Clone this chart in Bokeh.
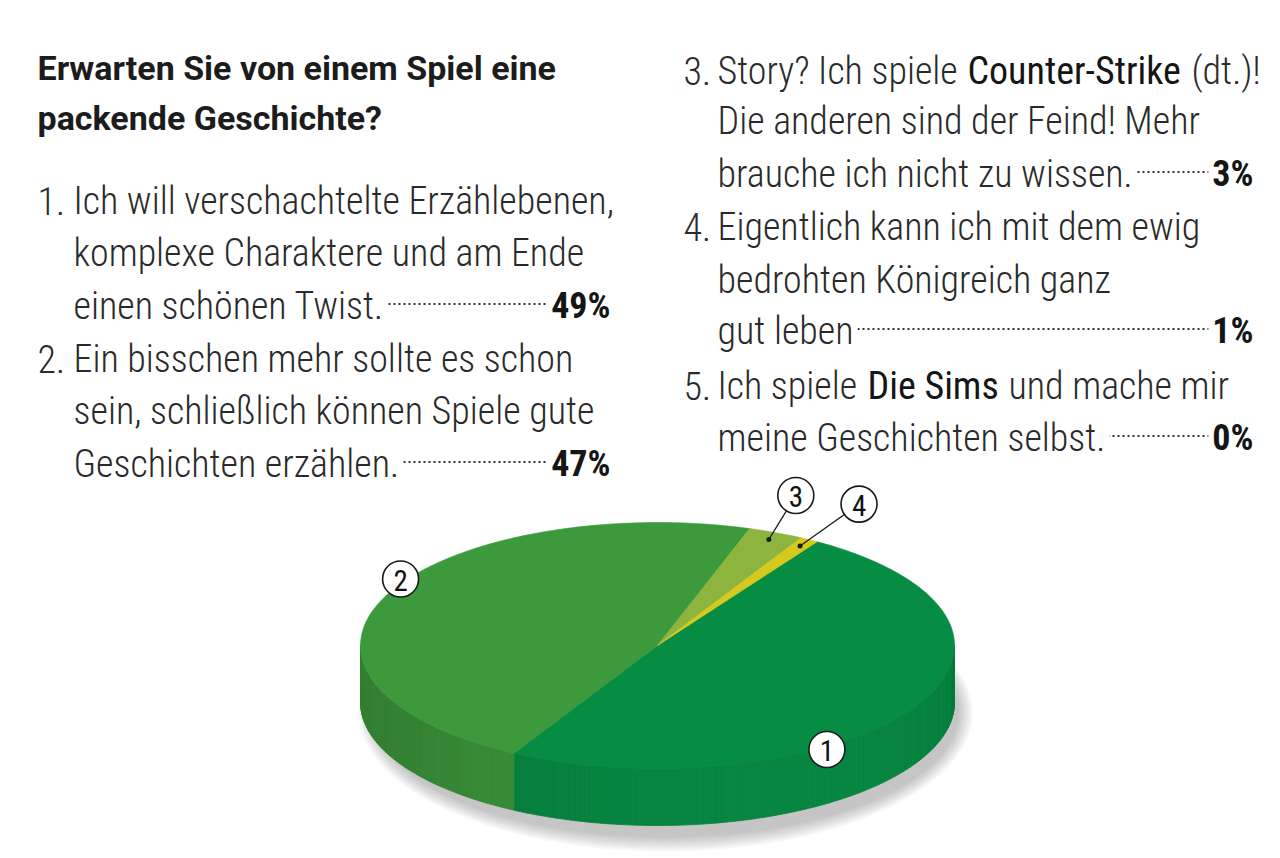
import numpy as np
from bokeh.plotting import figure
from bokeh.models import Range1d
from bokeh.core.properties import value
from bokeh.embed import file_html
from bokeh.resources import INLINE

# ---------------- data ----------------
question = ["Erwarten Sie von einem Spiel eine", "packende Geschichte?"]
item_numbers = ["1.", "2.", "3.", "4.", "5."]
# each line is a list of (text, emphasised) runs
item_lines = [
    [[("Ich will verschachtelte Erzählebenen,", False)],
     [("komplexe Charaktere und am Ende", False)],
     [("einen schönen Twist.", False)]],
    [[("Ein bisschen mehr sollte es schon", False)],
     [("sein, schließlich können Spiele gute", False)],
     [("Geschichten erzählen.", False)]],
    [[("Story? Ich spiele", False), ("Counter-Strike", True), ("(dt.)!", False)],
     [("Die anderen sind der Feind! Mehr", False)],
     [("brauche ich nicht zu wissen.", False)]],
    [[("Eigentlich kann ich mit dem ewig", False)],
     [("bedrohten Königreich ganz", False)],
     [("gut leben", False)]],
    [[("Ich spiele", False), ("Die Sims", True), ("und mache mir", False)],
     [("meine Geschichten selbst.", False)]],
]
percentages = [49, 47, 3, 1, 0]
slice_labels = ["1", "2", "3", "4", "5"]
top_colors = ["#078C44", "#3D9A3C", "#8DB43C", "#D4C91C", "#B0B0B0"]

# ---------------- layout / style ----------------
W, H = 1280, 858
BODY = "'Roboto Condensed Light', 'Roboto Condensed', sans-serif"
EMPH = "'Roboto Condensed', sans-serif"
TITLE = "Roboto, sans-serif"
TXT = "#2a2a2a"
BODY_SIZE = "38px"
PAD = 4
# per item: (x of number, x of text, baselines, x of runs on first line)
item_layout = [
    (37, 73, [200, 252, 305], None),
    (37, 73, [358, 410, 463], None),
    (683, 717, [70, 120, 173], [717, 967, 1191]),
    (683, 717, [226, 279, 330], None),
    (683, 717, [385, 437], [717, 867, 1008]),
]
pct_right = [610, 610, 1253, 1253, 1253]

CX, CY, RA, RB, DEPTH = 657, 645, 297, 123, 57
START = 57.5  # degrees, boundary between slice 4 and slice 1
label_polar = {0: (-56, 1.02), 1: (148, 1.02)}
leader_offsets = {2: (27, -44), 3: (59, -42)}
MARK_R = 18

p = figure(width=W, height=H, x_range=Range1d(0, W), y_range=Range1d(H, 0),
           output_backend="svg", toolbar_location=None, min_border=0)
p.axis.visible = False
p.grid.visible = False
p.outline_line_color = None
p.background_fill_color = "white"
p.border_fill_color = "white"


def ex(t):
    return CX + RA * np.cos(np.radians(t))


def ey(t):
    return CY - RB * np.sin(np.radians(t))


# ---------- shadow ----------
for k in range(8):
    p.ellipse(x=[CX + 8], y=[CY + DEPTH + 10], width=[2 * (RA + 10 - 2 * k)],
              height=[2 * (RB + 16 - 2 * k)], fill_color="#404050",
              fill_alpha=0.045, line_color=None)

# ---------- slice angles ----------
vals = np.array(percentages, dtype=float)
cum = np.concatenate([[0], np.cumsum(vals)])
a0 = START - 3.6 * cum[:-1]   # higher angle
a1 = START - 3.6 * cum[1:]    # lower angle


def shade(hexcol, f):
    h = hexcol.lstrip("#")
    r, g, b = (int(h[i:i + 2], 16) for i in (0, 2, 4))
    return "#%02x%02x%02x" % (int(min(255, r * f)), int(min(255, g * f)), int(min(255, b * f)))


# ---------- side ----------
sx, sy, sc = [], [], []
for i in range(len(vals)):
    if vals[i] <= 0:
        continue
    ts = np.arange(a1[i], a0[i], 1.0)
    ts = np.append(ts, a0[i])
    for j in range(len(ts) - 1):
        t0, t1 = ts[j], ts[j + 1]
        tm = 0.5 * (t0 + t1)
        if np.sin(np.radians(tm)) >= 0:
            continue
        f = 0.83 + 0.13 * max(0.0, np.cos(np.radians(tm - 295)))
        sx.append([ex(t0), ex(t1), ex(t1), ex(t0)])
        sy.append([ey(t0), ey(t1), ey(t1) + DEPTH, ey(t0) + DEPTH])
        sc.append(shade(top_colors[i], f))
p.patches(xs=sx, ys=sy, fill_color=sc, line_color=sc, line_width=0.8)

# ---------- top ----------
tx, ty, tc = [], [], []
for i in range(len(vals)):
    if vals[i] <= 0:
        continue
    ts = np.linspace(a1[i], a0[i], max(3, int(abs(a0[i] - a1[i])) + 2))
    tx.append([CX] + list(ex(ts)))
    ty.append([CY] + list(ey(ts)))
    tc.append(top_colors[i])
p.patches(xs=tx, ys=ty, fill_color=tc, line_color=tc, line_width=0.6)

# ---------- slice markers ----------
mx, my, mt = [], [], []
for i, (ang, r) in label_polar.items():
    mx.append(CX + r * RA * np.cos(np.radians(ang)))
    my.append(CY - r * RB * np.sin(np.radians(ang)))
    mt.append(slice_labels[i])
for i, (ox, oy) in leader_offsets.items():
    mid = 0.5 * (a0[i] + a1[i])
    dx_ = CX + 0.94 * RA * np.cos(np.radians(mid))
    dy_ = CY - 0.94 * RB * np.sin(np.radians(mid))
    cx_, cy_ = dx_ + ox, dy_ + oy
    d = np.hypot(ox, oy)
    ex_, ey_ = cx_ - ox / d * MARK_R, cy_ - oy / d * MARK_R
    p.line(x=[dx_, ex_], y=[dy_, ey_], line_color="#1a1a1a", line_width=1.3)
    p.scatter(x=[dx_], y=[dy_], size=5, fill_color="#1a1a1a", line_color=None)
    mx.append(cx_)
    my.append(cy_)
    mt.append(slice_labels[i])
p.scatter(x=mx, y=my, size=2 * MARK_R, fill_color="white", line_color="#1a1a1a",
          line_width=1.6)
p.text(x=mx, y=[v + 1 for v in my], text=mt, text_font=value(EMPH), text_font_size="29px",
       text_align="center", text_baseline="middle", text_color="#111111")

# ---------- title ----------
p.text(x=[37, 37], y=[67, 117], text=question, text_font=value(TITLE),
       text_font_style="bold", text_font_size="34px", text_color="#1c1c1c",
       text_baseline="alphabetic")

# ---------- items ----------
for i, lines in enumerate(item_lines):
    xn, xt, bls, runs_x = item_layout[i]
    last = len(lines) - 1
    # dotted leader (covered by the white text backgrounds)
    p.line(x=[xt + 10, pct_right[i] - 10], y=[bls[last] - 1.5, bls[last] - 1.5],
           line_color="#333333", line_width=2.2, line_dash="2 3")
    p.text(x=[xn], y=[bls[0]], text=[item_numbers[i]], text_font=value(BODY),
           text_font_size=BODY_SIZE, text_color=TXT, text_baseline="alphabetic")
    for li, runs in enumerate(lines):
        for ri, (txt, emph) in enumerate(runs):
            x = runs_x[ri] if runs_x is not None and li == 0 else xt
            kw = {}
            if li == last:
                kw = dict(background_fill_color="white", padding=PAD)
                x = x - PAD
            p.text(x=[x], y=[bls[li]], text=[txt], text_font=value(EMPH if emph else BODY),
                   text_font_size=BODY_SIZE, text_color="#151515" if emph else TXT,
                   text_baseline="alphabetic", **kw)
    p.text(x=[pct_right[i] + PAD], y=[bls[last]], text=[f"{percentages[i]}%"],
           text_font=value(EMPH), text_font_style="bold", text_font_size="36px",
           text_color="#151515", text_align="right", text_baseline="alphabetic",
           background_fill_color="white", padding=PAD)

open("out.html", "w").write(file_html(p, INLINE))
